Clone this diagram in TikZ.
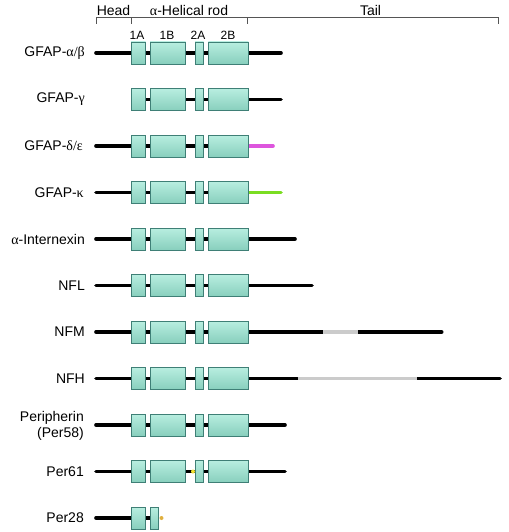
\documentclass[tikz,border=0pt]{standalone}
\usepackage{fontspec}
\setmainfont{Liberation Sans}
\newfontfamily\grk{Liberation Serif}
\definecolor{boxtop}{HTML}{B8EEE0}
\definecolor{boxbot}{HTML}{88CFBD}
\definecolor{boxedge}{HTML}{3F7F76}
\definecolor{pinktail}{HTML}{DD55DD}
\definecolor{greentail}{HTML}{7ADD22}
\definecolor{graytail}{HTML}{CBCBCB}
\definecolor{insertA}{HTML}{F0E030}
\definecolor{insertB}{HTML}{E0B040}
\definecolor{brk}{HTML}{555555}
\begin{document}
\begin{tikzpicture}[x=1pt,y=-1pt,
  seg/.style={rectangle, draw=boxedge, line width=0.9pt, top color=boxtop, bottom color=boxbot, minimum height=22pt, inner sep=0pt},
  s1A/.style={seg, minimum width=14.7pt},
  s1B/.style={seg, minimum width=35.7pt},
  s2A/.style={seg, minimum width=8.7pt},
  s2B/.style={seg, minimum width=40pt},
  bb/.style={line width=3.6pt, line cap=round, black},
  tailc/.style={line width=3.6pt, line cap=round},
  gapc/.style={line width=3.6pt, line cap=butt, graytail},
  lbl/.style={anchor=east, font=\fontsize{14}{16}\selectfont, align=right, inner sep=0pt},
  hdr/.style={font=\fontsize{14}{16}\selectfont, inner sep=0pt},
  sublbl/.style={font=\fontsize{12}{14}\selectfont, inner sep=0pt},
  bracket/.style={draw=brk, line width=1pt},
  ins/.style={circle, inner sep=0pt, minimum size=4pt}
]
\useasboundingbox (0,0) rectangle (508,532);

% header bracket
\coordinate (b0) at (96,24);
\coordinate (b0t) at (96,17.5);
\coordinate (b1) at (131,24);
\coordinate (b1t) at (131,17.5);
\coordinate (b2) at (247,24);
\coordinate (b2t) at (247,17.5);
\coordinate (b3) at (498.5,24);
\coordinate (b3t) at (498.5,17.5);
\draw[bracket] (b0) -- (b0t) -- (b3t) -- (b3);
\draw[bracket] (b1) -- (b1t);
\draw[bracket] (b2) -- (b2t);
\node[hdr] (hHead) at (113.5,10.5) {Head};
\node[hdr] (hRod) at (189,10.5) {{\grk α}-Helical rod};
\node[hdr] (hTail) at (370.5,10.5) {Tail};
\node[sublbl] (l1A) at (137,35.5) {1A};
\node[sublbl] (l1B) at (167,35.5) {1B};
\node[sublbl] (l2A) at (198,35.5) {2A};
\node[sublbl] (l2B) at (228,35.5) {2B};

% backbones (drawn first, boxes on top)
\foreach \r/\y/\s/\e in {ab/53/96/281, g/99.5/136/281, de/146/96/248, k/192.5/96/248,
    ina/239/96/295, nfl/285.5/96/312, nfm/332/96/441.7, nfh/378.5/96/500,
    per/425/96/285, p61/471.5/96/285, p28/518/96/155}{
  \coordinate (\r-s) at (\s,\y);
  \coordinate (\r-e) at (\e,\y);
  \draw[bb] (\r-s) -- (\r-e);
}
% coloured / gap tails
\coordinate (de-t0) at (244,146);
\coordinate (de-t1) at (273,146);
\draw[tailc, pinktail] (de-t0) -- (de-t1);
\coordinate (k-t0) at (244,192.5);
\coordinate (k-t1) at (281,192.5);
\draw[tailc, greentail] (k-t0) -- (k-t1);
\coordinate (nfm-g0) at (323,332);
\coordinate (nfm-g1) at (357.7,332);
\draw[gapc] (nfm-g0) -- (nfm-g1);
\coordinate (nfh-g0) at (297.7,378.5);
\coordinate (nfh-g1) at (416.7,378.5);
\draw[gapc] (nfh-g0) -- (nfh-g1);

% rod segments
\foreach \r/\y in {ab/53, g/99.5, de/146, k/192.5, ina/239, nfl/285.5, nfm/332, nfh/378.5, per/425, p61/471.5}{
  \node[s1A] (\r-1A) at (138.35,\y) {};
  \node[s1B] (\r-1B) at (167.85,\y) {};
  \node[s2A] (\r-2A) at (199.35,\y) {};
  \node[s2B] (\r-2B) at (228.3,\y) {};
}
\node[s1A] (p28-1A) at (138.35,518) {};
\node[s2A] (p28-1B) at (154.35,518) {};

% insertions
\node[ins, fill=insertA] (p61-ins) at (193,471.5) {};
\node[ins, fill=insertB] (p28-ins) at (161.5,518) {};

% row labels
\node[lbl] (t-ab) at (85,53) {GFAP-{\grk α/β}};
\node[lbl] (t-g) at (85,99.5) {GFAP-{\grk γ}};
\node[lbl] (t-de) at (83,146) {GFAP-{\grk δ/ε}};
\node[lbl] (t-k) at (84,192.5) {GFAP-{\grk κ}};
\node[lbl] (t-ina) at (85,239) {{\grk α}-Internexin};
\node[lbl] (t-nfl) at (85,285.5) {NFL};
\node[lbl] (t-nfm) at (85,332) {NFM};
\node[lbl] (t-nfh) at (85,378.5) {NFH};
\node[lbl] (t-per) at (84,425.5) {Peripherin\\(Per58)};
\node[lbl] (t-p61) at (84,471.5) {Per61};
\node[lbl] (t-p28) at (84,518) {Per28};
\end{tikzpicture}
\end{document}
